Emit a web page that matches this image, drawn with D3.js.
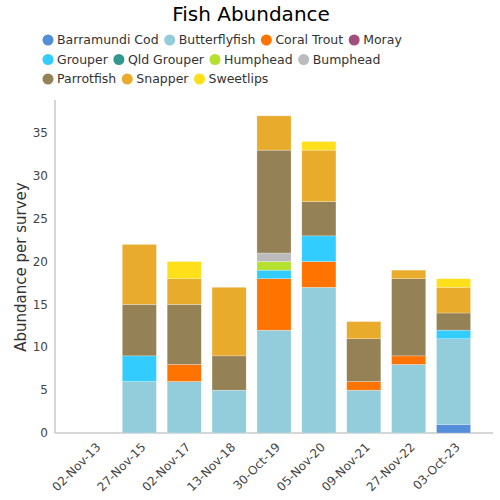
<!DOCTYPE html>
<html><head><meta charset="utf-8">
<script src="https://cdn.jsdelivr.net/npm/d3@7"></script>
<style>body{margin:0;background:#fff;} svg{font-family:"DejaVu Sans",sans-serif;}</style>
</head><body><svg id="c" width="500" height="500"></svg>
<script>
const categories = ["02-Nov-13","27-Nov-15","02-Nov-17","13-Nov-18","30-Oct-19","05-Nov-20","09-Nov-21","27-Nov-22","03-Oct-23"];
const seriesNames = ["Barramundi Cod","Butterflyfish","Coral Trout","Moray","Grouper","Qld Grouper","Humphead","Bumphead","Parrotfish","Snapper","Sweetlips"];
const seriesColors = ["#548dd8","#93ccda","#ff7400","#a34f7d","#33ccff","#33968f","#b5e02d","#bbbbbb","#948155","#e8ab2b","#ffdf1a"];
const barramundiCod = [0,0,0,0,0,0,0,0,1];
const butterflyfish = [0,6,6,5,12,17,5,8,10];
const coralTrout    = [0,0,2,0,6,3,1,1,0];
const moray         = [0,0,0,0,0,0,0,0,0];
const grouper       = [0,3,0,0,1,3,0,0,1];
const qldGrouper    = [0,0,0,0,0,0,0,0,0];
const humphead      = [0,0,0,0,1,0,0,0,0];
const bumphead      = [0,0,0,0,1,0,0,0,0];
const parrotfish    = [0,6,7,4,12,4,5,9,2];
const snapper       = [0,7,3,8,4,6,2,1,3];
const sweetlips     = [0,0,2,0,0,1,0,0,1];
const yTicks = [0,5,10,15,20,25,30,35];

const seriesValues = [barramundiCod,butterflyfish,coralTrout,moray,grouper,qldGrouper,humphead,bumphead,parrotfish,snapper,sweetlips];
const rows = categories.map((c,i)=>{const r={cat:c}; seriesNames.forEach((s,j)=>r[s]=seriesValues[j][i]); return r;});
const stacked = d3.stack().keys(seriesNames)(rows);

const svg = d3.select("#c");
const x = d3.scaleBand().domain(categories).range([72,476]).paddingInner(0.24).paddingOuter(0.12);
const y = d3.scaleLinear().domain([0,35]).range([433,133]);

svg.append("text").attr("x",251).attr("y",21).attr("text-anchor","middle").attr("font-size",20).attr("fill","#000").text("Fish Abundance");

// axes
svg.append("line").attr("x1",55).attr("x2",55).attr("y1",100).attr("y2",433).attr("stroke","#c8c8c8").attr("stroke-width",1.5);
svg.append("line").attr("x1",55).attr("x2",493).attr("y1",433).attr("y2",433).attr("stroke","#c8c8c8").attr("stroke-width",1.5);

svg.append("g").selectAll("text").data(yTicks).join("text")
  .attr("x",48).attr("y",d=>y(d)).attr("dy","0.35em").attr("text-anchor","end")
  .attr("font-size",12).attr("fill","#444").text(d=>d);

svg.append("g").selectAll("text").data(categories).join("text")
  .attr("text-anchor","end").attr("font-size",12).attr("fill","#444")
  .attr("transform",d=>`translate(${x(d)+x.bandwidth()/2+4},${445}) rotate(-45)`)
  .attr("dy","0.35em").text(d=>d);

svg.append("text").attr("transform","translate(26,267) rotate(-90)").attr("text-anchor","middle")
  .attr("font-size",15).attr("fill","#333").text("Abundance per survey");

// bars
svg.append("g").selectAll("g").data(stacked).join("g")
  .attr("fill",(d,i)=>seriesColors[i])
  .selectAll("rect").data(d=>d.filter(p=>p[1]-p[0]>0)).join("rect")
  .attr("x",d=>x(d.data.cat)).attr("width",x.bandwidth())
  .attr("y",d=>y(d[1])).attr("height",d=>y(d[0])-y(d[1]))
  .attr("stroke","#ffffff").attr("stroke-opacity",0.5).attr("stroke-width",0.5);

// legend
const legendRows = [[0,1,2,3],[4,5,6,7],[8,9,10]];
const lg = svg.append("g");
legendRows.forEach((row,ri)=>{
  let cx = 48;
  row.forEach(j=>{
    const g = lg.append("g").attr("transform",`translate(${cx},${40+ri*19.5})`);
    g.append("circle").attr("r",5.5).attr("fill",seriesColors[j]);
    const t = g.append("text").attr("x",9).attr("dy","0.35em").attr("font-size",12.5).attr("fill","#333").text(seriesNames[j]);
    const w = t.node().getComputedTextLength();
    cx += 9 + w + 11;
  });
});
</script></body></html>
